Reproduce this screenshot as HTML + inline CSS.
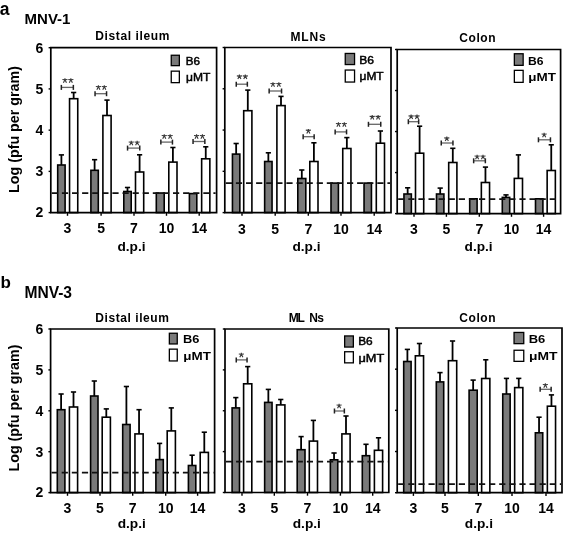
<!DOCTYPE html>
<html><head><meta charset="utf-8"><style>
html,body{margin:0;padding:0;background:#fff;}
svg{display:block;font-family:"Liberation Sans", sans-serif;will-change:transform;}
</style></head><body>
<svg width="564" height="534" viewBox="0 0 564 534">
<rect width="564" height="534" fill="#fff"/>
<rect x="57.70" y="165.00" width="7.40" height="47.60" fill="#7a7a7a" stroke="#000" stroke-width="1.6"/>
<rect x="69.55" y="98.70" width="8.20" height="113.90" fill="#fff" stroke="#000" stroke-width="1.6"/>
<line x1="61.40" y1="165.00" x2="61.40" y2="154.90" stroke="#000" stroke-width="1.8" />
<line x1="58.80" y1="154.90" x2="64.00" y2="154.90" stroke="#000" stroke-width="1.6" />
<line x1="73.65" y1="98.70" x2="73.65" y2="92.50" stroke="#000" stroke-width="1.8" />
<line x1="71.05" y1="92.50" x2="76.25" y2="92.50" stroke="#000" stroke-width="1.6" />
<line x1="61.35" y1="87.40" x2="73.35" y2="87.40" stroke="#666" stroke-width="1.3" />
<line x1="61.35" y1="84.90" x2="61.35" y2="89.90" stroke="#222" stroke-width="1.5" />
<line x1="73.35" y1="84.90" x2="73.35" y2="89.90" stroke="#222" stroke-width="1.5" />
<path d="M64.95 79.70L64.95 78.20M64.95 79.70L62.40 79.45M64.95 79.70L67.50 79.45M64.95 79.70L63.40 82.70M64.95 79.70L66.50 82.70" stroke="#383838" stroke-width="1.12" stroke-linecap="butt" fill="none"/>
<path d="M70.85 79.70L70.85 78.20M70.85 79.70L68.30 79.45M70.85 79.70L73.40 79.45M70.85 79.70L69.30 82.70M70.85 79.70L72.40 82.70" stroke="#383838" stroke-width="1.12" stroke-linecap="butt" fill="none"/>
<rect x="90.90" y="170.30" width="7.40" height="42.30" fill="#7a7a7a" stroke="#000" stroke-width="1.6"/>
<rect x="102.90" y="115.50" width="8.20" height="97.10" fill="#fff" stroke="#000" stroke-width="1.6"/>
<line x1="94.60" y1="170.30" x2="94.60" y2="159.70" stroke="#000" stroke-width="1.8" />
<line x1="92.00" y1="159.70" x2="97.20" y2="159.70" stroke="#000" stroke-width="1.6" />
<line x1="107.00" y1="115.50" x2="107.00" y2="100.10" stroke="#000" stroke-width="1.8" />
<line x1="104.40" y1="100.10" x2="109.60" y2="100.10" stroke="#000" stroke-width="1.6" />
<line x1="95.05" y1="93.70" x2="106.55" y2="93.70" stroke="#666" stroke-width="1.3" />
<line x1="95.05" y1="91.20" x2="95.05" y2="96.20" stroke="#222" stroke-width="1.5" />
<line x1="106.55" y1="91.20" x2="106.55" y2="96.20" stroke="#222" stroke-width="1.5" />
<path d="M98.40 86.70L98.40 85.20M98.40 86.70L95.85 86.45M98.40 86.70L100.95 86.45M98.40 86.70L96.85 89.70M98.40 86.70L99.95 89.70" stroke="#383838" stroke-width="1.12" stroke-linecap="butt" fill="none"/>
<path d="M104.30 86.70L104.30 85.20M104.30 86.70L101.75 86.45M104.30 86.70L106.85 86.45M104.30 86.70L102.75 89.70M104.30 86.70L105.85 89.70" stroke="#383838" stroke-width="1.12" stroke-linecap="butt" fill="none"/>
<rect x="123.80" y="191.50" width="7.40" height="21.10" fill="#7a7a7a" stroke="#000" stroke-width="1.6"/>
<rect x="135.50" y="172.00" width="8.20" height="40.60" fill="#fff" stroke="#000" stroke-width="1.6"/>
<line x1="127.50" y1="191.50" x2="127.50" y2="187.50" stroke="#000" stroke-width="1.8" />
<line x1="124.90" y1="187.50" x2="130.10" y2="187.50" stroke="#000" stroke-width="1.6" />
<line x1="139.60" y1="172.00" x2="139.60" y2="154.80" stroke="#000" stroke-width="1.8" />
<line x1="137.00" y1="154.80" x2="142.20" y2="154.80" stroke="#000" stroke-width="1.6" />
<line x1="127.55" y1="148.10" x2="139.75" y2="148.10" stroke="#666" stroke-width="1.3" />
<line x1="127.55" y1="145.60" x2="127.55" y2="150.60" stroke="#222" stroke-width="1.5" />
<line x1="139.75" y1="145.60" x2="139.75" y2="150.60" stroke="#222" stroke-width="1.5" />
<path d="M131.25 142.30L131.25 140.80M131.25 142.30L128.70 142.05M131.25 142.30L133.80 142.05M131.25 142.30L129.70 145.30M131.25 142.30L132.80 145.30" stroke="#383838" stroke-width="1.12" stroke-linecap="butt" fill="none"/>
<path d="M137.15 142.30L137.15 140.80M137.15 142.30L134.60 142.05M137.15 142.30L139.70 142.05M137.15 142.30L135.60 145.30M137.15 142.30L138.70 145.30" stroke="#383838" stroke-width="1.12" stroke-linecap="butt" fill="none"/>
<rect x="156.30" y="193.00" width="7.90" height="19.60" fill="#7a7a7a" stroke="#000" stroke-width="1.6"/>
<rect x="168.80" y="162.10" width="8.20" height="50.50" fill="#fff" stroke="#000" stroke-width="1.6"/>
<line x1="172.90" y1="162.10" x2="172.90" y2="147.50" stroke="#000" stroke-width="1.8" />
<line x1="170.30" y1="147.50" x2="175.50" y2="147.50" stroke="#000" stroke-width="1.6" />
<line x1="160.85" y1="142.10" x2="172.45" y2="142.10" stroke="#666" stroke-width="1.3" />
<line x1="160.85" y1="139.60" x2="160.85" y2="144.60" stroke="#222" stroke-width="1.5" />
<line x1="172.45" y1="139.60" x2="172.45" y2="144.60" stroke="#222" stroke-width="1.5" />
<path d="M164.25 135.70L164.25 134.20M164.25 135.70L161.70 135.45M164.25 135.70L166.80 135.45M164.25 135.70L162.70 138.70M164.25 135.70L165.80 138.70" stroke="#383838" stroke-width="1.12" stroke-linecap="butt" fill="none"/>
<path d="M170.15 135.70L170.15 134.20M170.15 135.70L167.60 135.45M170.15 135.70L172.70 135.45M170.15 135.70L168.60 138.70M170.15 135.70L171.70 138.70" stroke="#383838" stroke-width="1.12" stroke-linecap="butt" fill="none"/>
<rect x="189.40" y="193.60" width="7.40" height="19.00" fill="#7a7a7a" stroke="#000" stroke-width="1.6"/>
<rect x="201.65" y="158.80" width="8.20" height="53.80" fill="#fff" stroke="#000" stroke-width="1.6"/>
<line x1="205.75" y1="158.80" x2="205.75" y2="146.80" stroke="#000" stroke-width="1.8" />
<line x1="203.15" y1="146.80" x2="208.35" y2="146.80" stroke="#000" stroke-width="1.6" />
<line x1="193.05" y1="141.50" x2="204.85" y2="141.50" stroke="#666" stroke-width="1.3" />
<line x1="193.05" y1="139.00" x2="193.05" y2="144.00" stroke="#222" stroke-width="1.5" />
<line x1="204.85" y1="139.00" x2="204.85" y2="144.00" stroke="#222" stroke-width="1.5" />
<path d="M196.55 135.70L196.55 134.20M196.55 135.70L194.00 135.45M196.55 135.70L199.10 135.45M196.55 135.70L195.00 138.70M196.55 135.70L198.10 138.70" stroke="#383838" stroke-width="1.12" stroke-linecap="butt" fill="none"/>
<path d="M202.45 135.70L202.45 134.20M202.45 135.70L199.90 135.45M202.45 135.70L205.00 135.45M202.45 135.70L200.90 138.70M202.45 135.70L204.00 138.70" stroke="#383838" stroke-width="1.12" stroke-linecap="butt" fill="none"/>
<line x1="51.80" y1="193.20" x2="215.60" y2="193.20" stroke="#111" stroke-width="1.8" stroke-dasharray="6.2 3.9"/>
<path d="M50.80 47.70 L216.60 47.70 L216.60 212.60 L50.80 212.60 Z" fill="none" stroke="#000" stroke-width="1.7"/>
<line x1="48.60" y1="47.70" x2="50.80" y2="47.70" stroke="#000" stroke-width="1.4" />
<text x="43.30" y="52.50" font-size="14" font-weight="bold" text-anchor="end" fill="#000" >6</text>
<line x1="48.60" y1="88.92" x2="50.80" y2="88.92" stroke="#000" stroke-width="1.4" />
<text x="43.30" y="93.72" font-size="14" font-weight="bold" text-anchor="end" fill="#000" >5</text>
<line x1="48.60" y1="130.15" x2="50.80" y2="130.15" stroke="#000" stroke-width="1.4" />
<text x="43.30" y="134.95" font-size="14" font-weight="bold" text-anchor="end" fill="#000" >4</text>
<line x1="48.60" y1="171.38" x2="50.80" y2="171.38" stroke="#000" stroke-width="1.4" />
<text x="43.30" y="176.18" font-size="14" font-weight="bold" text-anchor="end" fill="#000" >3</text>
<line x1="48.60" y1="212.60" x2="50.80" y2="212.60" stroke="#000" stroke-width="1.4" />
<text x="43.30" y="217.40" font-size="14" font-weight="bold" text-anchor="end" fill="#000" >2</text>
<line x1="67.50" y1="212.60" x2="67.50" y2="215.80" stroke="#000" stroke-width="1.4" />
<text x="67.50" y="233.00" font-size="14" font-weight="bold" text-anchor="middle" fill="#000" >3</text>
<line x1="101.10" y1="212.60" x2="101.10" y2="215.80" stroke="#000" stroke-width="1.4" />
<text x="101.10" y="233.00" font-size="14" font-weight="bold" text-anchor="middle" fill="#000" >5</text>
<line x1="134.00" y1="212.60" x2="134.00" y2="215.80" stroke="#000" stroke-width="1.4" />
<text x="134.00" y="233.00" font-size="14" font-weight="bold" text-anchor="middle" fill="#000" >7</text>
<line x1="166.50" y1="212.60" x2="166.50" y2="215.80" stroke="#000" stroke-width="1.4" />
<text x="166.50" y="233.00" font-size="14" font-weight="bold" text-anchor="middle" fill="#000" >10</text>
<line x1="199.20" y1="212.60" x2="199.20" y2="215.80" stroke="#000" stroke-width="1.4" />
<text x="199.20" y="233.00" font-size="14" font-weight="bold" text-anchor="middle" fill="#000" >14</text>
<text x="131.50" y="251.00" font-size="13.7" font-weight="bold" text-anchor="middle" fill="#000" >d.p.i</text>
<text x="95.30" y="40.10" font-size="12" font-weight="bold" text-anchor="start" fill="#000" textLength="74.0" lengthAdjust="spacing">Distal ileum</text>
<rect x="171.25" y="55.25" width="8.10" height="10.40" fill="#7a7a7a" stroke="#000" stroke-width="1.3"/>
<rect x="171.25" y="71.15" width="8.10" height="11.50" fill="#fff" stroke="#000" stroke-width="1.3"/>
<text x="185.70" y="64.70" font-size="11.8" font-weight="normal" text-anchor="start" fill="#000" textLength="14.2" lengthAdjust="spacingAndGlyphs" stroke="#000" stroke-width="0.5">B6</text>
<text x="186.00" y="81.20" font-size="11.8" font-weight="normal" text-anchor="start" fill="#000" textLength="24.4" lengthAdjust="spacingAndGlyphs" stroke="#000" stroke-width="0.5">μMT</text>
<rect x="232.45" y="154.10" width="7.40" height="58.50" fill="#7a7a7a" stroke="#000" stroke-width="1.6"/>
<rect x="243.70" y="110.70" width="8.20" height="101.90" fill="#fff" stroke="#000" stroke-width="1.6"/>
<line x1="236.15" y1="154.10" x2="236.15" y2="143.50" stroke="#000" stroke-width="1.8" />
<line x1="233.55" y1="143.50" x2="238.75" y2="143.50" stroke="#000" stroke-width="1.6" />
<line x1="247.80" y1="110.70" x2="247.80" y2="90.10" stroke="#000" stroke-width="1.8" />
<line x1="245.20" y1="90.10" x2="250.40" y2="90.10" stroke="#000" stroke-width="1.6" />
<line x1="236.25" y1="84.20" x2="247.35" y2="84.20" stroke="#666" stroke-width="1.3" />
<line x1="236.25" y1="81.70" x2="236.25" y2="86.70" stroke="#222" stroke-width="1.5" />
<line x1="247.35" y1="81.70" x2="247.35" y2="86.70" stroke="#222" stroke-width="1.5" />
<path d="M239.40 76.10L239.40 74.60M239.40 76.10L236.85 75.85M239.40 76.10L241.95 75.85M239.40 76.10L237.85 79.10M239.40 76.10L240.95 79.10" stroke="#383838" stroke-width="1.12" stroke-linecap="butt" fill="none"/>
<path d="M245.30 76.10L245.30 74.60M245.30 76.10L242.75 75.85M245.30 76.10L247.85 75.85M245.30 76.10L243.75 79.10M245.30 76.10L246.85 79.10" stroke="#383838" stroke-width="1.12" stroke-linecap="butt" fill="none"/>
<rect x="264.65" y="161.50" width="7.40" height="51.10" fill="#7a7a7a" stroke="#000" stroke-width="1.6"/>
<rect x="276.90" y="105.60" width="8.20" height="107.00" fill="#fff" stroke="#000" stroke-width="1.6"/>
<line x1="268.35" y1="161.50" x2="268.35" y2="152.80" stroke="#000" stroke-width="1.8" />
<line x1="265.75" y1="152.80" x2="270.95" y2="152.80" stroke="#000" stroke-width="1.6" />
<line x1="281.00" y1="105.60" x2="281.00" y2="96.40" stroke="#000" stroke-width="1.8" />
<line x1="278.40" y1="96.40" x2="283.60" y2="96.40" stroke="#000" stroke-width="1.6" />
<line x1="269.15" y1="91.00" x2="281.55" y2="91.00" stroke="#666" stroke-width="1.3" />
<line x1="269.15" y1="88.50" x2="269.15" y2="93.50" stroke="#222" stroke-width="1.5" />
<line x1="281.55" y1="88.50" x2="281.55" y2="93.50" stroke="#222" stroke-width="1.5" />
<path d="M272.95 83.70L272.95 82.20M272.95 83.70L270.40 83.45M272.95 83.70L275.50 83.45M272.95 83.70L271.40 86.70M272.95 83.70L274.50 86.70" stroke="#383838" stroke-width="1.12" stroke-linecap="butt" fill="none"/>
<path d="M278.85 83.70L278.85 82.20M278.85 83.70L276.30 83.45M278.85 83.70L281.40 83.45M278.85 83.70L277.30 86.70M278.85 83.70L280.40 86.70" stroke="#383838" stroke-width="1.12" stroke-linecap="butt" fill="none"/>
<rect x="297.80" y="178.50" width="8.00" height="34.10" fill="#7a7a7a" stroke="#000" stroke-width="1.6"/>
<rect x="309.80" y="161.50" width="8.20" height="51.10" fill="#fff" stroke="#000" stroke-width="1.6"/>
<line x1="301.80" y1="178.50" x2="301.80" y2="170.00" stroke="#000" stroke-width="1.8" />
<line x1="299.20" y1="170.00" x2="304.40" y2="170.00" stroke="#000" stroke-width="1.6" />
<line x1="313.90" y1="161.50" x2="313.90" y2="142.80" stroke="#000" stroke-width="1.8" />
<line x1="311.30" y1="142.80" x2="316.50" y2="142.80" stroke="#000" stroke-width="1.6" />
<line x1="303.15" y1="136.70" x2="314.15" y2="136.70" stroke="#666" stroke-width="1.3" />
<line x1="303.15" y1="134.20" x2="303.15" y2="139.20" stroke="#222" stroke-width="1.5" />
<line x1="314.15" y1="134.20" x2="314.15" y2="139.20" stroke="#222" stroke-width="1.5" />
<path d="M308.35 130.40L308.35 128.90M308.35 130.40L305.80 130.15M308.35 130.40L310.90 130.15M308.35 130.40L306.80 133.40M308.35 130.40L309.90 133.40" stroke="#383838" stroke-width="1.12" stroke-linecap="butt" fill="none"/>
<rect x="331.00" y="183.10" width="7.40" height="29.50" fill="#7a7a7a" stroke="#000" stroke-width="1.6"/>
<rect x="342.75" y="148.50" width="8.20" height="64.10" fill="#fff" stroke="#000" stroke-width="1.6"/>
<line x1="346.85" y1="148.50" x2="346.85" y2="137.60" stroke="#000" stroke-width="1.8" />
<line x1="344.25" y1="137.60" x2="349.45" y2="137.60" stroke="#000" stroke-width="1.6" />
<line x1="335.15" y1="131.90" x2="346.55" y2="131.90" stroke="#666" stroke-width="1.3" />
<line x1="335.15" y1="129.40" x2="335.15" y2="134.40" stroke="#222" stroke-width="1.5" />
<line x1="346.55" y1="129.40" x2="346.55" y2="134.40" stroke="#222" stroke-width="1.5" />
<path d="M338.45 123.80L338.45 122.30M338.45 123.80L335.90 123.55M338.45 123.80L341.00 123.55M338.45 123.80L336.90 126.80M338.45 123.80L340.00 126.80" stroke="#383838" stroke-width="1.12" stroke-linecap="butt" fill="none"/>
<path d="M344.35 123.80L344.35 122.30M344.35 123.80L341.80 123.55M344.35 123.80L346.90 123.55M344.35 123.80L342.80 126.80M344.35 123.80L345.90 126.80" stroke="#383838" stroke-width="1.12" stroke-linecap="butt" fill="none"/>
<rect x="364.05" y="183.10" width="7.40" height="29.50" fill="#7a7a7a" stroke="#000" stroke-width="1.6"/>
<rect x="376.30" y="143.20" width="8.20" height="69.40" fill="#fff" stroke="#000" stroke-width="1.6"/>
<line x1="380.40" y1="143.20" x2="380.40" y2="131.00" stroke="#000" stroke-width="1.8" />
<line x1="377.80" y1="131.00" x2="383.00" y2="131.00" stroke="#000" stroke-width="1.6" />
<line x1="368.45" y1="124.30" x2="380.75" y2="124.30" stroke="#666" stroke-width="1.3" />
<line x1="368.45" y1="121.80" x2="368.45" y2="126.80" stroke="#222" stroke-width="1.5" />
<line x1="380.75" y1="121.80" x2="380.75" y2="126.80" stroke="#222" stroke-width="1.5" />
<path d="M372.20 116.60L372.20 115.10M372.20 116.60L369.65 116.35M372.20 116.60L374.75 116.35M372.20 116.60L370.65 119.60M372.20 116.60L373.75 119.60" stroke="#383838" stroke-width="1.12" stroke-linecap="butt" fill="none"/>
<path d="M378.10 116.60L378.10 115.10M378.10 116.60L375.55 116.35M378.10 116.60L380.65 116.35M378.10 116.60L376.55 119.60M378.10 116.60L379.65 119.60" stroke="#383838" stroke-width="1.12" stroke-linecap="butt" fill="none"/>
<line x1="225.80" y1="183.10" x2="390.00" y2="183.10" stroke="#111" stroke-width="1.8" stroke-dasharray="6.2 3.9"/>
<path d="M224.80 47.50 L391.00 47.50 L391.00 212.60 L224.80 212.60 Z" fill="none" stroke="#000" stroke-width="1.7"/>
<line x1="222.60" y1="47.50" x2="224.80" y2="47.50" stroke="#000" stroke-width="1.4" />
<line x1="222.60" y1="88.78" x2="224.80" y2="88.78" stroke="#000" stroke-width="1.4" />
<line x1="222.60" y1="130.05" x2="224.80" y2="130.05" stroke="#000" stroke-width="1.4" />
<line x1="222.60" y1="171.32" x2="224.80" y2="171.32" stroke="#000" stroke-width="1.4" />
<line x1="222.60" y1="212.60" x2="224.80" y2="212.60" stroke="#000" stroke-width="1.4" />
<line x1="242.00" y1="212.60" x2="242.00" y2="215.80" stroke="#000" stroke-width="1.4" />
<text x="242.00" y="233.50" font-size="14" font-weight="bold" text-anchor="middle" fill="#000" >3</text>
<line x1="275.20" y1="212.60" x2="275.20" y2="215.80" stroke="#000" stroke-width="1.4" />
<text x="275.20" y="233.50" font-size="14" font-weight="bold" text-anchor="middle" fill="#000" >5</text>
<line x1="308.30" y1="212.60" x2="308.30" y2="215.80" stroke="#000" stroke-width="1.4" />
<text x="308.30" y="233.50" font-size="14" font-weight="bold" text-anchor="middle" fill="#000" >7</text>
<line x1="341.00" y1="212.60" x2="341.00" y2="215.80" stroke="#000" stroke-width="1.4" />
<text x="341.00" y="233.50" font-size="14" font-weight="bold" text-anchor="middle" fill="#000" >10</text>
<line x1="374.20" y1="212.60" x2="374.20" y2="215.80" stroke="#000" stroke-width="1.4" />
<text x="374.20" y="233.50" font-size="14" font-weight="bold" text-anchor="middle" fill="#000" >14</text>
<text x="306.50" y="250.70" font-size="13.7" font-weight="bold" text-anchor="middle" fill="#000" >d.p.i</text>
<text x="290.60" y="40.50" font-size="12" font-weight="bold" text-anchor="start" fill="#000" textLength="35.0" lengthAdjust="spacing">MLNs</text>
<rect x="345.25" y="53.45" width="9.30" height="11.10" fill="#7a7a7a" stroke="#000" stroke-width="1.3"/>
<rect x="345.25" y="70.05" width="9.30" height="12.00" fill="#fff" stroke="#000" stroke-width="1.3"/>
<text x="359.20" y="63.80" font-size="11.8" font-weight="normal" text-anchor="start" fill="#000" textLength="14.7" lengthAdjust="spacingAndGlyphs" stroke="#000" stroke-width="0.5">B6</text>
<text x="359.50" y="80.00" font-size="11.8" font-weight="normal" text-anchor="start" fill="#000" textLength="24.2" lengthAdjust="spacingAndGlyphs" stroke="#000" stroke-width="0.5">μMT</text>
<rect x="403.95" y="194.00" width="7.40" height="19.60" fill="#7a7a7a" stroke="#000" stroke-width="1.6"/>
<rect x="415.50" y="153.20" width="8.20" height="60.40" fill="#fff" stroke="#000" stroke-width="1.6"/>
<line x1="407.65" y1="194.00" x2="407.65" y2="187.80" stroke="#000" stroke-width="1.8" />
<line x1="405.05" y1="187.80" x2="410.25" y2="187.80" stroke="#000" stroke-width="1.6" />
<line x1="419.60" y1="153.20" x2="419.60" y2="126.20" stroke="#000" stroke-width="1.8" />
<line x1="417.00" y1="126.20" x2="422.20" y2="126.20" stroke="#000" stroke-width="1.6" />
<line x1="408.35" y1="121.70" x2="418.65" y2="121.70" stroke="#666" stroke-width="1.3" />
<line x1="408.35" y1="119.20" x2="408.35" y2="124.20" stroke="#222" stroke-width="1.5" />
<line x1="418.65" y1="119.20" x2="418.65" y2="124.20" stroke="#222" stroke-width="1.5" />
<path d="M411.10 116.10L411.10 114.60M411.10 116.10L408.55 115.85M411.10 116.10L413.65 115.85M411.10 116.10L409.55 119.10M411.10 116.10L412.65 119.10" stroke="#383838" stroke-width="1.12" stroke-linecap="butt" fill="none"/>
<path d="M417.00 116.10L417.00 114.60M417.00 116.10L414.45 115.85M417.00 116.10L419.55 115.85M417.00 116.10L415.45 119.10M417.00 116.10L418.55 119.10" stroke="#383838" stroke-width="1.12" stroke-linecap="butt" fill="none"/>
<rect x="436.50" y="194.00" width="7.40" height="19.60" fill="#7a7a7a" stroke="#000" stroke-width="1.6"/>
<rect x="448.70" y="162.50" width="8.20" height="51.10" fill="#fff" stroke="#000" stroke-width="1.6"/>
<line x1="440.20" y1="194.00" x2="440.20" y2="188.10" stroke="#000" stroke-width="1.8" />
<line x1="437.60" y1="188.10" x2="442.80" y2="188.10" stroke="#000" stroke-width="1.6" />
<line x1="452.80" y1="162.50" x2="452.80" y2="148.30" stroke="#000" stroke-width="1.8" />
<line x1="450.20" y1="148.30" x2="455.40" y2="148.30" stroke="#000" stroke-width="1.6" />
<line x1="441.25" y1="143.00" x2="452.95" y2="143.00" stroke="#666" stroke-width="1.3" />
<line x1="441.25" y1="140.50" x2="441.25" y2="145.50" stroke="#222" stroke-width="1.5" />
<line x1="452.95" y1="140.50" x2="452.95" y2="145.50" stroke="#222" stroke-width="1.5" />
<path d="M446.80 138.10L446.80 136.60M446.80 138.10L444.25 137.85M446.80 138.10L449.35 137.85M446.80 138.10L445.25 141.10M446.80 138.10L448.35 141.10" stroke="#383838" stroke-width="1.12" stroke-linecap="butt" fill="none"/>
<rect x="469.70" y="198.80" width="7.40" height="14.80" fill="#7a7a7a" stroke="#000" stroke-width="1.6"/>
<rect x="481.35" y="182.50" width="8.20" height="31.10" fill="#fff" stroke="#000" stroke-width="1.6"/>
<line x1="485.45" y1="182.50" x2="485.45" y2="167.10" stroke="#000" stroke-width="1.8" />
<line x1="482.85" y1="167.10" x2="488.05" y2="167.10" stroke="#000" stroke-width="1.6" />
<line x1="473.65" y1="160.80" x2="485.35" y2="160.80" stroke="#666" stroke-width="1.3" />
<line x1="473.65" y1="158.30" x2="473.65" y2="163.30" stroke="#222" stroke-width="1.5" />
<line x1="485.35" y1="158.30" x2="485.35" y2="163.30" stroke="#222" stroke-width="1.5" />
<path d="M477.10 156.20L477.10 154.70M477.10 156.20L474.55 155.95M477.10 156.20L479.65 155.95M477.10 156.20L475.55 159.20M477.10 156.20L478.65 159.20" stroke="#383838" stroke-width="1.12" stroke-linecap="butt" fill="none"/>
<path d="M483.00 156.20L483.00 154.70M483.00 156.20L480.45 155.95M483.00 156.20L485.55 155.95M483.00 156.20L481.45 159.20M483.00 156.20L484.55 159.20" stroke="#383838" stroke-width="1.12" stroke-linecap="butt" fill="none"/>
<rect x="502.30" y="197.40" width="7.40" height="16.20" fill="#7a7a7a" stroke="#000" stroke-width="1.6"/>
<rect x="514.30" y="178.40" width="8.20" height="35.20" fill="#fff" stroke="#000" stroke-width="1.6"/>
<line x1="506.00" y1="197.40" x2="506.00" y2="194.90" stroke="#000" stroke-width="1.8" />
<line x1="503.40" y1="194.90" x2="508.60" y2="194.90" stroke="#000" stroke-width="1.6" />
<line x1="518.40" y1="178.40" x2="518.40" y2="154.90" stroke="#000" stroke-width="1.8" />
<line x1="515.80" y1="154.90" x2="521.00" y2="154.90" stroke="#000" stroke-width="1.6" />
<rect x="535.50" y="198.80" width="7.40" height="14.80" fill="#7a7a7a" stroke="#000" stroke-width="1.6"/>
<rect x="547.15" y="170.50" width="8.20" height="43.10" fill="#fff" stroke="#000" stroke-width="1.6"/>
<line x1="551.25" y1="170.50" x2="551.25" y2="144.80" stroke="#000" stroke-width="1.8" />
<line x1="548.65" y1="144.80" x2="553.85" y2="144.80" stroke="#000" stroke-width="1.6" />
<line x1="538.45" y1="139.80" x2="550.45" y2="139.80" stroke="#666" stroke-width="1.3" />
<line x1="538.45" y1="137.30" x2="538.45" y2="142.30" stroke="#222" stroke-width="1.5" />
<line x1="550.45" y1="137.30" x2="550.45" y2="142.30" stroke="#222" stroke-width="1.5" />
<path d="M544.15 134.20L544.15 132.70M544.15 134.20L541.60 133.95M544.15 134.20L546.70 133.95M544.15 134.20L542.60 137.20M544.15 134.20L545.70 137.20" stroke="#383838" stroke-width="1.12" stroke-linecap="butt" fill="none"/>
<line x1="398.20" y1="199.10" x2="559.60" y2="199.10" stroke="#111" stroke-width="1.8" stroke-dasharray="6.2 3.9"/>
<path d="M397.20 49.50 L560.60 49.50 L560.60 213.60 L397.20 213.60 Z" fill="none" stroke="#000" stroke-width="1.7"/>
<line x1="395.00" y1="49.50" x2="397.20" y2="49.50" stroke="#000" stroke-width="1.4" />
<line x1="395.00" y1="90.53" x2="397.20" y2="90.53" stroke="#000" stroke-width="1.4" />
<line x1="395.00" y1="131.55" x2="397.20" y2="131.55" stroke="#000" stroke-width="1.4" />
<line x1="395.00" y1="172.57" x2="397.20" y2="172.57" stroke="#000" stroke-width="1.4" />
<line x1="395.00" y1="213.60" x2="397.20" y2="213.60" stroke="#000" stroke-width="1.4" />
<line x1="414.00" y1="213.60" x2="414.00" y2="216.80" stroke="#000" stroke-width="1.4" />
<text x="414.00" y="233.50" font-size="14" font-weight="bold" text-anchor="middle" fill="#000" >3</text>
<line x1="446.40" y1="213.60" x2="446.40" y2="216.80" stroke="#000" stroke-width="1.4" />
<text x="446.40" y="233.50" font-size="14" font-weight="bold" text-anchor="middle" fill="#000" >5</text>
<line x1="479.30" y1="213.60" x2="479.30" y2="216.80" stroke="#000" stroke-width="1.4" />
<text x="479.30" y="233.50" font-size="14" font-weight="bold" text-anchor="middle" fill="#000" >7</text>
<line x1="511.50" y1="213.60" x2="511.50" y2="216.80" stroke="#000" stroke-width="1.4" />
<text x="511.50" y="233.50" font-size="14" font-weight="bold" text-anchor="middle" fill="#000" >10</text>
<line x1="543.60" y1="213.60" x2="543.60" y2="216.80" stroke="#000" stroke-width="1.4" />
<text x="543.60" y="233.50" font-size="14" font-weight="bold" text-anchor="middle" fill="#000" >14</text>
<text x="478.60" y="251.00" font-size="13.7" font-weight="bold" text-anchor="middle" fill="#000" >d.p.i</text>
<text x="459.30" y="42.20" font-size="12" font-weight="bold" text-anchor="start" fill="#000" textLength="36.2" lengthAdjust="spacing">Colon</text>
<rect x="514.35" y="53.75" width="8.80" height="11.60" fill="#7a7a7a" stroke="#000" stroke-width="1.3"/>
<rect x="514.35" y="70.35" width="8.80" height="12.00" fill="#fff" stroke="#000" stroke-width="1.3"/>
<text x="528.00" y="64.60" font-size="11.8" font-weight="bold" text-anchor="start" fill="#000" textLength="15.5" lengthAdjust="spacingAndGlyphs">B6</text>
<text x="528.30" y="80.70" font-size="11.8" font-weight="bold" text-anchor="start" fill="#000" textLength="27.7" lengthAdjust="spacingAndGlyphs">μMT</text>
<rect x="57.30" y="409.70" width="7.60" height="82.90" fill="#7a7a7a" stroke="#000" stroke-width="1.6"/>
<rect x="69.40" y="407.00" width="8.20" height="85.60" fill="#fff" stroke="#000" stroke-width="1.6"/>
<line x1="61.10" y1="409.70" x2="61.10" y2="394.00" stroke="#000" stroke-width="1.8" />
<line x1="58.50" y1="394.00" x2="63.70" y2="394.00" stroke="#000" stroke-width="1.6" />
<line x1="73.50" y1="407.00" x2="73.50" y2="392.00" stroke="#000" stroke-width="1.8" />
<line x1="70.90" y1="392.00" x2="76.10" y2="392.00" stroke="#000" stroke-width="1.6" />
<rect x="90.60" y="396.00" width="7.40" height="96.60" fill="#7a7a7a" stroke="#000" stroke-width="1.6"/>
<rect x="102.20" y="417.20" width="8.20" height="75.40" fill="#fff" stroke="#000" stroke-width="1.6"/>
<line x1="94.30" y1="396.00" x2="94.30" y2="381.00" stroke="#000" stroke-width="1.8" />
<line x1="91.70" y1="381.00" x2="96.90" y2="381.00" stroke="#000" stroke-width="1.6" />
<line x1="106.30" y1="417.20" x2="106.30" y2="408.90" stroke="#000" stroke-width="1.8" />
<line x1="103.70" y1="408.90" x2="108.90" y2="408.90" stroke="#000" stroke-width="1.6" />
<rect x="122.70" y="424.50" width="7.40" height="68.10" fill="#7a7a7a" stroke="#000" stroke-width="1.6"/>
<rect x="134.95" y="433.90" width="8.20" height="58.70" fill="#fff" stroke="#000" stroke-width="1.6"/>
<line x1="126.40" y1="424.50" x2="126.40" y2="386.50" stroke="#000" stroke-width="1.8" />
<line x1="123.80" y1="386.50" x2="129.00" y2="386.50" stroke="#000" stroke-width="1.6" />
<line x1="139.05" y1="433.90" x2="139.05" y2="409.70" stroke="#000" stroke-width="1.8" />
<line x1="136.45" y1="409.70" x2="141.65" y2="409.70" stroke="#000" stroke-width="1.6" />
<rect x="155.90" y="459.60" width="7.40" height="33.00" fill="#7a7a7a" stroke="#000" stroke-width="1.6"/>
<rect x="167.20" y="430.90" width="8.20" height="61.70" fill="#fff" stroke="#000" stroke-width="1.6"/>
<line x1="159.60" y1="459.60" x2="159.60" y2="443.40" stroke="#000" stroke-width="1.8" />
<line x1="157.00" y1="443.40" x2="162.20" y2="443.40" stroke="#000" stroke-width="1.6" />
<line x1="171.30" y1="430.90" x2="171.30" y2="407.90" stroke="#000" stroke-width="1.8" />
<line x1="168.70" y1="407.90" x2="173.90" y2="407.90" stroke="#000" stroke-width="1.6" />
<rect x="188.40" y="465.50" width="7.40" height="27.10" fill="#7a7a7a" stroke="#000" stroke-width="1.6"/>
<rect x="200.20" y="452.40" width="8.20" height="40.20" fill="#fff" stroke="#000" stroke-width="1.6"/>
<line x1="192.10" y1="465.50" x2="192.10" y2="455.20" stroke="#000" stroke-width="1.8" />
<line x1="189.50" y1="455.20" x2="194.70" y2="455.20" stroke="#000" stroke-width="1.6" />
<line x1="204.30" y1="452.40" x2="204.30" y2="432.20" stroke="#000" stroke-width="1.8" />
<line x1="201.70" y1="432.20" x2="206.90" y2="432.20" stroke="#000" stroke-width="1.6" />
<line x1="51.60" y1="472.70" x2="213.60" y2="472.70" stroke="#111" stroke-width="1.8" stroke-dasharray="6.2 3.9"/>
<path d="M50.60 329.00 L214.60 329.00 L214.60 492.60 L50.60 492.60 Z" fill="none" stroke="#000" stroke-width="1.7"/>
<line x1="48.40" y1="329.00" x2="50.60" y2="329.00" stroke="#000" stroke-width="1.4" />
<text x="43.30" y="333.80" font-size="14" font-weight="bold" text-anchor="end" fill="#000" >6</text>
<line x1="48.40" y1="369.90" x2="50.60" y2="369.90" stroke="#000" stroke-width="1.4" />
<text x="43.30" y="374.70" font-size="14" font-weight="bold" text-anchor="end" fill="#000" >5</text>
<line x1="48.40" y1="410.80" x2="50.60" y2="410.80" stroke="#000" stroke-width="1.4" />
<text x="43.30" y="415.60" font-size="14" font-weight="bold" text-anchor="end" fill="#000" >4</text>
<line x1="48.40" y1="451.70" x2="50.60" y2="451.70" stroke="#000" stroke-width="1.4" />
<text x="43.30" y="456.50" font-size="14" font-weight="bold" text-anchor="end" fill="#000" >3</text>
<line x1="48.40" y1="492.60" x2="50.60" y2="492.60" stroke="#000" stroke-width="1.4" />
<text x="43.30" y="497.40" font-size="14" font-weight="bold" text-anchor="end" fill="#000" >2</text>
<line x1="67.50" y1="492.60" x2="67.50" y2="495.80" stroke="#000" stroke-width="1.4" />
<text x="67.50" y="512.60" font-size="14" font-weight="bold" text-anchor="middle" fill="#000" >3</text>
<line x1="100.00" y1="492.60" x2="100.00" y2="495.80" stroke="#000" stroke-width="1.4" />
<text x="100.00" y="512.60" font-size="14" font-weight="bold" text-anchor="middle" fill="#000" >5</text>
<line x1="132.70" y1="492.60" x2="132.70" y2="495.80" stroke="#000" stroke-width="1.4" />
<text x="132.70" y="512.60" font-size="14" font-weight="bold" text-anchor="middle" fill="#000" >7</text>
<line x1="165.70" y1="492.60" x2="165.70" y2="495.80" stroke="#000" stroke-width="1.4" />
<text x="165.70" y="512.60" font-size="14" font-weight="bold" text-anchor="middle" fill="#000" >10</text>
<line x1="197.60" y1="492.60" x2="197.60" y2="495.80" stroke="#000" stroke-width="1.4" />
<text x="197.60" y="512.60" font-size="14" font-weight="bold" text-anchor="middle" fill="#000" >14</text>
<text x="131.70" y="528.20" font-size="13.7" font-weight="bold" text-anchor="middle" fill="#000" >d.p.i</text>
<text x="95.30" y="322.40" font-size="12" font-weight="bold" text-anchor="start" fill="#000" textLength="73.6" lengthAdjust="spacing">Distal ileum</text>
<rect x="169.35" y="333.25" width="7.90" height="10.70" fill="#7a7a7a" stroke="#000" stroke-width="1.3"/>
<rect x="169.35" y="349.15" width="7.90" height="11.80" fill="#fff" stroke="#000" stroke-width="1.3"/>
<text x="183.00" y="342.70" font-size="11.8" font-weight="bold" text-anchor="start" fill="#000" textLength="16.4" lengthAdjust="spacingAndGlyphs">B6</text>
<text x="183.30" y="359.80" font-size="11.8" font-weight="bold" text-anchor="start" fill="#000" textLength="27.7" lengthAdjust="spacingAndGlyphs">μMT</text>
<rect x="232.10" y="407.90" width="7.40" height="84.60" fill="#7a7a7a" stroke="#000" stroke-width="1.6"/>
<rect x="243.60" y="383.80" width="8.20" height="108.70" fill="#fff" stroke="#000" stroke-width="1.6"/>
<line x1="235.80" y1="407.90" x2="235.80" y2="397.60" stroke="#000" stroke-width="1.8" />
<line x1="233.20" y1="397.60" x2="238.40" y2="397.60" stroke="#000" stroke-width="1.6" />
<line x1="247.70" y1="383.80" x2="247.70" y2="366.60" stroke="#000" stroke-width="1.8" />
<line x1="245.10" y1="366.60" x2="250.30" y2="366.60" stroke="#000" stroke-width="1.6" />
<line x1="236.25" y1="359.90" x2="247.05" y2="359.90" stroke="#666" stroke-width="1.3" />
<line x1="236.25" y1="357.40" x2="236.25" y2="362.40" stroke="#222" stroke-width="1.5" />
<line x1="247.05" y1="357.40" x2="247.05" y2="362.40" stroke="#222" stroke-width="1.5" />
<path d="M241.35 354.30L241.35 352.80M241.35 354.30L238.80 354.05M241.35 354.30L243.90 354.05M241.35 354.30L239.80 357.30M241.35 354.30L242.90 357.30" stroke="#383838" stroke-width="1.12" stroke-linecap="butt" fill="none"/>
<rect x="264.65" y="402.40" width="7.40" height="90.10" fill="#7a7a7a" stroke="#000" stroke-width="1.6"/>
<rect x="276.60" y="404.90" width="8.30" height="87.60" fill="#fff" stroke="#000" stroke-width="1.6"/>
<line x1="268.35" y1="402.40" x2="268.35" y2="389.40" stroke="#000" stroke-width="1.8" />
<line x1="265.75" y1="389.40" x2="270.95" y2="389.40" stroke="#000" stroke-width="1.6" />
<line x1="280.75" y1="404.90" x2="280.75" y2="399.50" stroke="#000" stroke-width="1.8" />
<line x1="278.15" y1="399.50" x2="283.35" y2="399.50" stroke="#000" stroke-width="1.6" />
<rect x="297.20" y="449.70" width="7.80" height="42.80" fill="#7a7a7a" stroke="#000" stroke-width="1.6"/>
<rect x="309.30" y="441.10" width="8.20" height="51.40" fill="#fff" stroke="#000" stroke-width="1.6"/>
<line x1="301.10" y1="449.70" x2="301.10" y2="436.60" stroke="#000" stroke-width="1.8" />
<line x1="298.50" y1="436.60" x2="303.70" y2="436.60" stroke="#000" stroke-width="1.6" />
<line x1="313.40" y1="441.10" x2="313.40" y2="420.40" stroke="#000" stroke-width="1.8" />
<line x1="310.80" y1="420.40" x2="316.00" y2="420.40" stroke="#000" stroke-width="1.6" />
<rect x="330.35" y="459.80" width="7.40" height="32.70" fill="#7a7a7a" stroke="#000" stroke-width="1.6"/>
<rect x="341.90" y="433.90" width="8.20" height="58.60" fill="#fff" stroke="#000" stroke-width="1.6"/>
<line x1="334.05" y1="459.80" x2="334.05" y2="453.00" stroke="#000" stroke-width="1.8" />
<line x1="331.45" y1="453.00" x2="336.65" y2="453.00" stroke="#000" stroke-width="1.6" />
<line x1="346.00" y1="433.90" x2="346.00" y2="416.00" stroke="#000" stroke-width="1.8" />
<line x1="343.40" y1="416.00" x2="348.60" y2="416.00" stroke="#000" stroke-width="1.6" />
<line x1="334.45" y1="411.00" x2="344.35" y2="411.00" stroke="#666" stroke-width="1.3" />
<line x1="334.45" y1="408.50" x2="334.45" y2="413.50" stroke="#222" stroke-width="1.5" />
<line x1="344.35" y1="408.50" x2="344.35" y2="413.50" stroke="#222" stroke-width="1.5" />
<path d="M339.10 405.30L339.10 403.80M339.10 405.30L336.55 405.05M339.10 405.30L341.65 405.05M339.10 405.30L337.55 408.30M339.10 405.30L340.65 408.30" stroke="#383838" stroke-width="1.12" stroke-linecap="butt" fill="none"/>
<rect x="362.30" y="455.70" width="7.40" height="36.80" fill="#7a7a7a" stroke="#000" stroke-width="1.6"/>
<rect x="374.40" y="450.30" width="8.20" height="42.20" fill="#fff" stroke="#000" stroke-width="1.6"/>
<line x1="366.00" y1="455.70" x2="366.00" y2="444.30" stroke="#000" stroke-width="1.8" />
<line x1="363.40" y1="444.30" x2="368.60" y2="444.30" stroke="#000" stroke-width="1.6" />
<line x1="378.50" y1="450.30" x2="378.50" y2="437.80" stroke="#000" stroke-width="1.8" />
<line x1="375.90" y1="437.80" x2="381.10" y2="437.80" stroke="#000" stroke-width="1.6" />
<line x1="226.00" y1="461.60" x2="387.80" y2="461.60" stroke="#111" stroke-width="1.8" stroke-dasharray="6.2 3.9"/>
<path d="M225.00 329.00 L388.80 329.00 L388.80 492.50 L225.00 492.50 Z" fill="none" stroke="#000" stroke-width="1.7"/>
<line x1="222.80" y1="329.00" x2="225.00" y2="329.00" stroke="#000" stroke-width="1.4" />
<line x1="222.80" y1="369.88" x2="225.00" y2="369.88" stroke="#000" stroke-width="1.4" />
<line x1="222.80" y1="410.75" x2="225.00" y2="410.75" stroke="#000" stroke-width="1.4" />
<line x1="222.80" y1="451.62" x2="225.00" y2="451.62" stroke="#000" stroke-width="1.4" />
<line x1="222.80" y1="492.50" x2="225.00" y2="492.50" stroke="#000" stroke-width="1.4" />
<line x1="242.00" y1="492.50" x2="242.00" y2="495.70" stroke="#000" stroke-width="1.4" />
<text x="242.00" y="512.60" font-size="14" font-weight="bold" text-anchor="middle" fill="#000" >3</text>
<line x1="274.30" y1="492.50" x2="274.30" y2="495.70" stroke="#000" stroke-width="1.4" />
<text x="274.30" y="512.60" font-size="14" font-weight="bold" text-anchor="middle" fill="#000" >5</text>
<line x1="307.50" y1="492.50" x2="307.50" y2="495.70" stroke="#000" stroke-width="1.4" />
<text x="307.50" y="512.60" font-size="14" font-weight="bold" text-anchor="middle" fill="#000" >7</text>
<line x1="340.40" y1="492.50" x2="340.40" y2="495.70" stroke="#000" stroke-width="1.4" />
<text x="340.40" y="512.60" font-size="14" font-weight="bold" text-anchor="middle" fill="#000" >10</text>
<line x1="372.70" y1="492.50" x2="372.70" y2="495.70" stroke="#000" stroke-width="1.4" />
<text x="372.70" y="512.60" font-size="14" font-weight="bold" text-anchor="middle" fill="#000" >14</text>
<text x="306.80" y="528.20" font-size="13.7" font-weight="bold" text-anchor="middle" fill="#000" >d.p.i</text>
<text x="288.8 297.4 309.2 317.3" y="322.4" font-size="12" font-weight="bold">MLNs</text>
<rect x="344.65" y="335.95" width="8.70" height="11.10" fill="#7a7a7a" stroke="#000" stroke-width="1.3"/>
<rect x="344.65" y="351.75" width="8.70" height="11.10" fill="#fff" stroke="#000" stroke-width="1.3"/>
<text x="358.20" y="344.60" font-size="11.8" font-weight="normal" text-anchor="start" fill="#000" textLength="14.5" lengthAdjust="spacingAndGlyphs" stroke="#000" stroke-width="0.5">B6</text>
<text x="358.50" y="361.50" font-size="11.8" font-weight="normal" text-anchor="start" fill="#000" textLength="25.8" lengthAdjust="spacingAndGlyphs" stroke="#000" stroke-width="0.5">μMT</text>
<rect x="403.70" y="361.50" width="7.40" height="131.20" fill="#7a7a7a" stroke="#000" stroke-width="1.6"/>
<rect x="415.35" y="355.80" width="8.20" height="136.90" fill="#fff" stroke="#000" stroke-width="1.6"/>
<line x1="407.40" y1="361.50" x2="407.40" y2="349.40" stroke="#000" stroke-width="1.8" />
<line x1="404.80" y1="349.40" x2="410.00" y2="349.40" stroke="#000" stroke-width="1.6" />
<line x1="419.45" y1="355.80" x2="419.45" y2="343.50" stroke="#000" stroke-width="1.8" />
<line x1="416.85" y1="343.50" x2="422.05" y2="343.50" stroke="#000" stroke-width="1.6" />
<rect x="436.30" y="381.90" width="7.40" height="110.80" fill="#7a7a7a" stroke="#000" stroke-width="1.6"/>
<rect x="448.40" y="360.70" width="8.30" height="132.00" fill="#fff" stroke="#000" stroke-width="1.6"/>
<line x1="440.00" y1="381.90" x2="440.00" y2="372.60" stroke="#000" stroke-width="1.8" />
<line x1="437.40" y1="372.60" x2="442.60" y2="372.60" stroke="#000" stroke-width="1.6" />
<line x1="452.55" y1="360.70" x2="452.55" y2="341.00" stroke="#000" stroke-width="1.8" />
<line x1="449.95" y1="341.00" x2="455.15" y2="341.00" stroke="#000" stroke-width="1.6" />
<rect x="469.10" y="390.20" width="8.10" height="102.50" fill="#7a7a7a" stroke="#000" stroke-width="1.6"/>
<rect x="481.65" y="378.50" width="8.20" height="114.20" fill="#fff" stroke="#000" stroke-width="1.6"/>
<line x1="473.15" y1="390.20" x2="473.15" y2="380.10" stroke="#000" stroke-width="1.8" />
<line x1="470.55" y1="380.10" x2="475.75" y2="380.10" stroke="#000" stroke-width="1.6" />
<line x1="485.75" y1="378.50" x2="485.75" y2="359.80" stroke="#000" stroke-width="1.8" />
<line x1="483.15" y1="359.80" x2="488.35" y2="359.80" stroke="#000" stroke-width="1.6" />
<rect x="502.75" y="394.00" width="7.40" height="98.70" fill="#7a7a7a" stroke="#000" stroke-width="1.6"/>
<rect x="514.65" y="387.60" width="8.20" height="105.10" fill="#fff" stroke="#000" stroke-width="1.6"/>
<line x1="506.45" y1="394.00" x2="506.45" y2="378.40" stroke="#000" stroke-width="1.8" />
<line x1="503.85" y1="378.40" x2="509.05" y2="378.40" stroke="#000" stroke-width="1.6" />
<line x1="518.75" y1="387.60" x2="518.75" y2="378.40" stroke="#000" stroke-width="1.8" />
<line x1="516.15" y1="378.40" x2="521.35" y2="378.40" stroke="#000" stroke-width="1.6" />
<rect x="535.35" y="432.80" width="7.40" height="59.90" fill="#7a7a7a" stroke="#000" stroke-width="1.6"/>
<rect x="547.35" y="406.20" width="8.20" height="86.50" fill="#fff" stroke="#000" stroke-width="1.6"/>
<line x1="539.05" y1="432.80" x2="539.05" y2="417.20" stroke="#000" stroke-width="1.8" />
<line x1="536.45" y1="417.20" x2="541.65" y2="417.20" stroke="#000" stroke-width="1.6" />
<line x1="551.45" y1="406.20" x2="551.45" y2="394.90" stroke="#000" stroke-width="1.8" />
<line x1="548.85" y1="394.90" x2="554.05" y2="394.90" stroke="#000" stroke-width="1.6" />
<line x1="540.15" y1="389.30" x2="551.15" y2="389.30" stroke="#666" stroke-width="1.3" />
<line x1="540.15" y1="386.80" x2="540.15" y2="391.80" stroke="#222" stroke-width="1.5" />
<line x1="551.15" y1="386.80" x2="551.15" y2="391.80" stroke="#222" stroke-width="1.5" />
<path d="M545.35 384.80L545.35 383.30M545.35 384.80L542.80 384.55M545.35 384.80L547.90 384.55M545.35 384.80L543.80 387.80M545.35 384.80L546.90 387.80" stroke="#383838" stroke-width="1.12" stroke-linecap="butt" fill="none"/>
<line x1="398.20" y1="484.20" x2="561.00" y2="484.20" stroke="#111" stroke-width="1.8" stroke-dasharray="6.2 3.9"/>
<path d="M397.20 328.00 L562.00 328.00 L562.00 492.70 L397.20 492.70 Z" fill="none" stroke="#000" stroke-width="1.7"/>
<line x1="395.00" y1="328.00" x2="397.20" y2="328.00" stroke="#000" stroke-width="1.4" />
<line x1="395.00" y1="369.18" x2="397.20" y2="369.18" stroke="#000" stroke-width="1.4" />
<line x1="395.00" y1="410.35" x2="397.20" y2="410.35" stroke="#000" stroke-width="1.4" />
<line x1="395.00" y1="451.52" x2="397.20" y2="451.52" stroke="#000" stroke-width="1.4" />
<line x1="395.00" y1="492.70" x2="397.20" y2="492.70" stroke="#000" stroke-width="1.4" />
<line x1="413.40" y1="492.70" x2="413.40" y2="495.90" stroke="#000" stroke-width="1.4" />
<text x="413.40" y="512.60" font-size="14" font-weight="bold" text-anchor="middle" fill="#000" >3</text>
<line x1="445.00" y1="492.70" x2="445.00" y2="495.90" stroke="#000" stroke-width="1.4" />
<text x="445.00" y="512.60" font-size="14" font-weight="bold" text-anchor="middle" fill="#000" >5</text>
<line x1="478.30" y1="492.70" x2="478.30" y2="495.90" stroke="#000" stroke-width="1.4" />
<text x="478.30" y="512.60" font-size="14" font-weight="bold" text-anchor="middle" fill="#000" >7</text>
<line x1="512.00" y1="492.70" x2="512.00" y2="495.90" stroke="#000" stroke-width="1.4" />
<text x="512.00" y="512.60" font-size="14" font-weight="bold" text-anchor="middle" fill="#000" >10</text>
<line x1="546.00" y1="492.70" x2="546.00" y2="495.90" stroke="#000" stroke-width="1.4" />
<text x="546.00" y="512.60" font-size="14" font-weight="bold" text-anchor="middle" fill="#000" >14</text>
<text x="478.90" y="528.20" font-size="13.7" font-weight="bold" text-anchor="middle" fill="#000" >d.p.i</text>
<text x="459.30" y="322.00" font-size="12" font-weight="bold" text-anchor="start" fill="#000" textLength="36.2" lengthAdjust="spacing">Colon</text>
<rect x="514.05" y="332.45" width="9.70" height="11.20" fill="#7a7a7a" stroke="#000" stroke-width="1.3"/>
<rect x="514.05" y="350.25" width="9.70" height="11.10" fill="#fff" stroke="#000" stroke-width="1.3"/>
<text x="528.70" y="342.80" font-size="11.8" font-weight="bold" text-anchor="start" fill="#000" textLength="16.6" lengthAdjust="spacingAndGlyphs">B6</text>
<text x="529.00" y="360.10" font-size="11.8" font-weight="bold" text-anchor="start" fill="#000" textLength="28.5" lengthAdjust="spacingAndGlyphs">μMT</text>
<text x="-0.30" y="14.90" font-size="17.5" font-weight="bold" text-anchor="start" fill="#000" >a</text>
<text x="0.50" y="288.40" font-size="17" font-weight="bold" text-anchor="start" fill="#000" >b</text>
<text x="24.60" y="23.90" font-size="15" font-weight="bold" text-anchor="start" fill="#000" >MNV-1</text>
<text x="24.40" y="297.90" font-size="15.6" font-weight="bold" text-anchor="start" fill="#000" >MNV-3</text>
<text x="0" y="0" font-size="14.3" font-weight="bold" text-anchor="middle" transform="translate(18.9 129.5) rotate(-90)">Log (pfu per gram)</text>
<text x="0" y="0" font-size="14.3" font-weight="bold" text-anchor="middle" transform="translate(18.9 408.05) rotate(-90)">Log (pfu per gram)</text>
</svg>
</body></html>
